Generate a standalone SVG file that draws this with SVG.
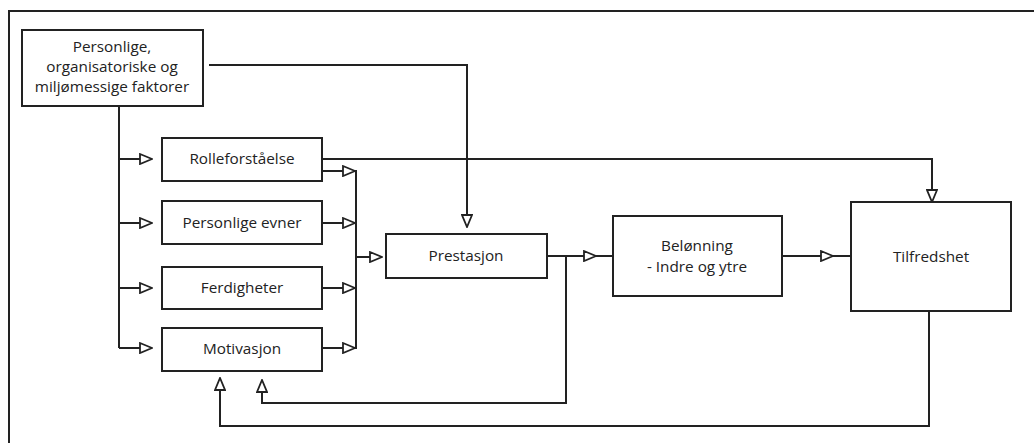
<svg xmlns="http://www.w3.org/2000/svg" width="1034" height="443" viewBox="0 0 1034 443">
<style>
.box{fill:#fff;stroke:#222;stroke-width:2}
.ln{fill:none;stroke:#222;stroke-width:2}
.t{font-family:"Open Sans","Liberation Sans",sans-serif;font-size:15.3px;fill:#222;text-anchor:middle}
</style>
<defs>
<marker id="ah" viewBox="0 0 14 12" refX="13" refY="6" markerWidth="14" markerHeight="12" markerUnits="userSpaceOnUse" orient="auto">
<path d="M1,1 L13,6 L1,11 Z" fill="#fff" stroke="#222" stroke-width="1.8"/>
</marker>
</defs>
<rect width="1034" height="443" fill="#fff"/>
<g id="frame">
<path class="ln" d="M9,443 V11 H1034"/>
</g>
<g id="connectors">
<path class="ln" d="M119,106 V348"/>
<path class="ln" d="M119,159 H152" marker-end="url(#ah)"/>
<path class="ln" d="M119,223 H152" marker-end="url(#ah)"/>
<path class="ln" d="M119,288 H152" marker-end="url(#ah)"/>
<path class="ln" d="M119,348 H152" marker-end="url(#ah)"/>
<path class="ln" d="M209,65 H467 V227" marker-end="url(#ah)"/>
<path class="ln" d="M322,159 H932 V202" marker-end="url(#ah)"/>
<path class="ln" d="M322,171 H355" marker-end="url(#ah)"/>
<path class="ln" d="M322,223 H355" marker-end="url(#ah)"/>
<path class="ln" d="M322,288 H355" marker-end="url(#ah)"/>
<path class="ln" d="M322,348 H355" marker-end="url(#ah)"/>
<path class="ln" d="M356,170 V349"/>
<path class="ln" d="M356,257 H382" marker-end="url(#ah)"/>
<path class="ln" d="M547,256 H596" marker-end="url(#ah)"/>
<path class="ln" d="M596,256 H613"/>
<path class="ln" d="M782,256 H833" marker-end="url(#ah)"/>
<path class="ln" d="M833,256 H851"/>
<path class="ln" d="M566,256 V403 H262 V380" marker-end="url(#ah)"/>
<path class="ln" d="M929,311 V426 H220 V378" marker-end="url(#ah)"/>
</g>
<g id="factors">
<rect class="box" x="22" y="30" width="181" height="76"/>
<text class="t" x="112" y="52">Personlige,</text>
<text class="t" x="112" y="72">organisatoriske og</text>
<text class="t" x="112" y="92">miljømessige faktorer</text>
</g>
<g id="rolle">
<rect class="box" x="162" y="138" width="160" height="43"/>
<text class="t" x="242" y="164">Rolleforståelse</text>
</g>
<g id="evner">
<rect class="box" x="162" y="201" width="160" height="43"/>
<text class="t" x="242" y="228">Personlige evner</text>
</g>
<g id="ferdigheter">
<rect class="box" x="162" y="267" width="160" height="42"/>
<text class="t" x="242" y="293">Ferdigheter</text>
</g>
<g id="motivasjon">
<rect class="box" x="162" y="328" width="160" height="43"/>
<text class="t" x="242" y="354">Motivasjon</text>
</g>
<g id="prestasjon">
<rect class="box" x="386" y="234" width="161" height="44"/>
<text class="t" x="466" y="261">Prestasjon</text>
</g>
<g id="belonning">
<rect class="box" x="613" y="216" width="169" height="80"/>
<text class="t" x="697" y="251">Belønning</text>
<text class="t" x="697" y="272">- Indre og ytre</text>
</g>
<g id="tilfredshet">
<rect class="box" x="851" y="202" width="160" height="109"/>
<text class="t" x="931" y="262">Tilfredshet</text>
</g>
</svg>
